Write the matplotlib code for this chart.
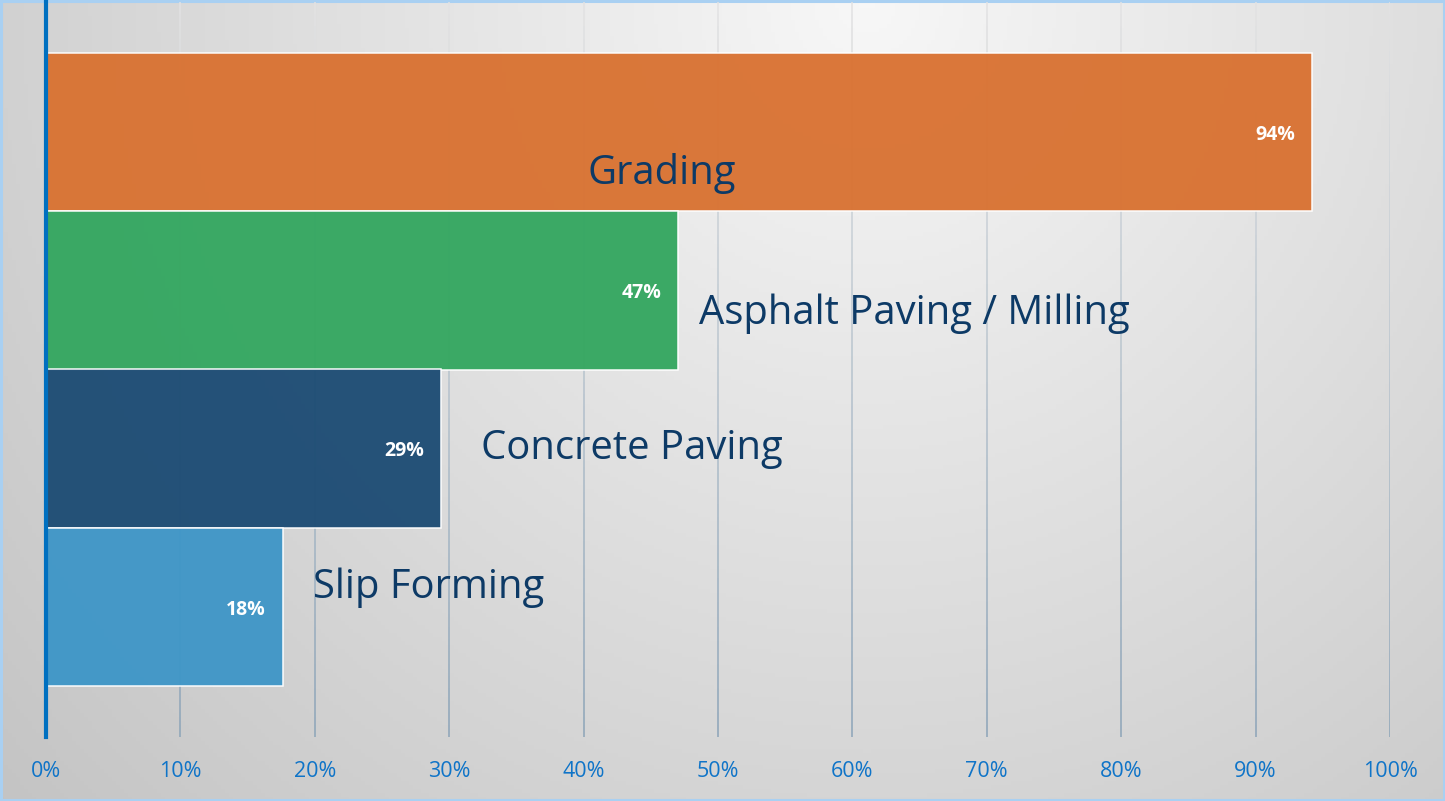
import numpy as np
import matplotlib
matplotlib.use("Agg")
import matplotlib.pyplot as plt
from matplotlib.ticker import PercentFormatter
from matplotlib.collections import LineCollection

categories = ["Grading", "Asphalt Paving / Milling", "Concrete Paving", "Slip Forming"]
values = [94.2, 47.0, 29.4, 17.6]
value_labels = ["94%", "47%", "29%", "18%"]
colors = ["#D97232", "#34A760", "#1D4C74", "#3F96C7"]
xticks = [0, 10, 20, 30, 40, 50, 60, 70, 80, 90, 100]

# label placement (x in data %, y offset in category units)
label_x = [40.3, 48.6, 32.4, 19.9]
label_dy = [0.26, 0.15, 0.0, -0.12]

plt.rcParams['font.family'] = ['Open Sans', 'DejaVu Sans']

W, H = 1445, 801
fig = plt.figure(figsize=(W / 100, H / 100), dpi=100)

# background gradient
bg = fig.add_axes([0, 0, 1, 1], zorder=-10)
yy, xx = np.mgrid[0:1:200j, 0:1:360j]
d = np.sqrt(((xx - 0.6) * 0.25) ** 2 + (yy * 0.135) ** 2)
val = 0.97 - d
img = np.dstack([val, val, val])
bg.imshow(img, extent=[0, 1, 0, 1], origin='upper', aspect='auto')
bg.set_xlim(0, 1)
bg.set_ylim(0, 1)
bg.axis('off')
bg.add_patch(plt.Rectangle((0.0008, 0.0015), 0.9984, 0.997, fill=False,
                           edgecolor='#A9D0F2', linewidth=2.2))

ax = fig.add_axes([46 / W, (H - 737) / H, 1344 / W, 735 / H])
ax.patch.set_alpha(0)

y = np.arange(len(categories))
ylo, yhi = 3.5 + 0.323, -0.5 - 0.323
ax.set_xlim(0, 100)
ax.set_ylim(ylo, yhi)

# gridlines with vertical colour gradient
top_c = np.array([0.89, 0.89, 0.89])
bot_c = np.array([0.545, 0.64, 0.72])
nseg = 60
ys = np.linspace(yhi, ylo, nseg + 1)
for xt in xticks[1:]:
    segs = [[(xt, ys[k]), (xt, ys[k + 1])] for k in range(nseg)]
    t = (np.arange(nseg) + 0.5) / nseg
    cols = [tuple(top_c + (bot_c - top_c) * tk) for tk in t]
    ax.add_collection(LineCollection(segs, colors=cols, linewidths=1.1, zorder=0.5))

ax.barh(y, values, height=1.0, color=colors, alpha=0.96,
        edgecolor=(1, 1, 1, 0.3), linewidth=1.1, zorder=2)

ax.set_xticks(xticks)
ax.xaxis.set_major_formatter(PercentFormatter(decimals=0))
ax.set_yticks([])
ax.tick_params(axis='x', length=0, pad=17, labelsize=15.5, labelcolor='#0F74C8')
for s in ['top', 'right', 'bottom']:
    ax.spines[s].set_visible(False)
ax.spines['left'].set_color('#0070C0')
ax.spines['left'].set_linewidth(3)
ax.spines['left'].set_zorder(5)

for i, (v, lab) in enumerate(zip(values, value_labels)):
    ax.annotate(lab, xy=(v, i), xytext=(-12, -2), textcoords='offset points',
                ha='right', va='center', color='white', fontsize=14,
                fontweight='bold', zorder=4)

for i, cat in enumerate(categories):
    ax.text(label_x[i], i + label_dy[i], cat, ha='left', va='center',
            fontsize=28.8, color='#0D3A66', zorder=4)

fig.savefig("out.png", dpi=100)
